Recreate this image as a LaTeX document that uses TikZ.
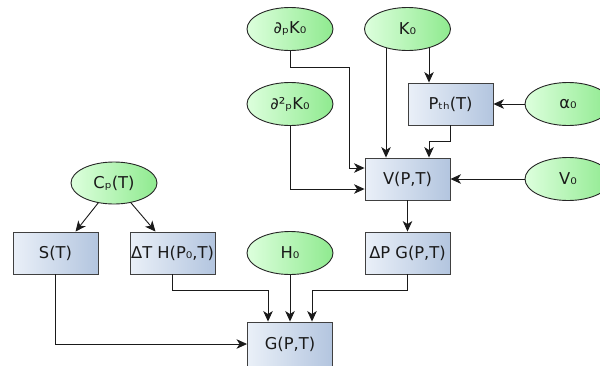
\documentclass[tikz,border=0pt]{standalone}
\usepackage{fontspec}
\setmainfont{DejaVu Sans}
\usetikzlibrary{shapes.geometric,arrows.meta}
\definecolor{boxL}{HTML}{EAF0F8}
\definecolor{boxR}{HTML}{B3C5DF}
\definecolor{ellL}{HTML}{DDFFDD}
\definecolor{ellR}{HTML}{8FEA8F}
\definecolor{linec}{HTML}{1A1A1A}
\begin{document}
\begin{tikzpicture}[x=1pt,y=-1pt,
  txt/.style={font=\fontsize{16.3}{19}\selectfont, text=linec},
  box/.style={txt, rectangle, draw=black!75, line width=0.9pt, minimum width=85pt, minimum height=42pt, inner sep=0pt, left color=boxL, right color=boxR},
  ell/.style={txt, ellipse, draw=black!85, line width=0.9pt, minimum width=86pt, minimum height=43pt, inner sep=0pt, left color=ellL, right color=ellR},
  arr/.style={draw=linec, line width=0.9pt, -{Stealth[length=10.5pt,width=9.5pt,inset=3pt]}}]
\useasboundingbox (0,0) rectangle (600,365);

\node[ell] (dpK)  at (290,29)    {∂ₚK₀};
\node[ell] (K0)   at (407.5,29)  {K₀};
\node[ell] (d2pK) at (290,104)   {∂²ₚK₀};
\node[box] (Pth)  at (450.5,104) {Pₜₕ(T)};
\node[ell] (alpha) at (568,104)  {α₀};
\node[box] (V)    at (407.5,179) {V(P,T)};
\node[ell] (V0)   at (568,179)   {V₀};
\node[ell, minimum height=42pt] (Cp) at (114,183) {Cₚ(T)};
\node[box] (S)    at (55.5,253)  {S(T)};
\node[box] (dTH)  at (172.5,253) {ΔT H(P₀,T)};
\node[ell] (H0)   at (290,253)   {H₀};
\node[box] (dPG)  at (407.5,253) {ΔP G(P,T)};
\node[box, minimum height=44pt] (G) at (290,344) {G(P,T)};

\coordinate (j1) at (349,67);
\coordinate (j2) at (429,141);
\coordinate (j3) at (268,290);
\coordinate (j4) at (312,290);
\coordinate (k0a) at ([xshift=-21.5pt,yshift=3pt]K0.south);
\coordinate (k0b) at ([xshift=21.5pt,yshift=3pt]K0.south);

\draw[arr] (dpK.south) |- (j1) |- ([yshift=11pt]V.west);
\draw[arr] (d2pK.south) |- ([yshift=-10pt]V.west);
\draw[arr] (k0a) -- (k0a |- V.north);
\draw[arr] (k0b) -- (k0b |- Pth.north);
\draw[arr] (Pth.south) |- (j2) -- (j2 |- V.north);
\draw[arr] (alpha.west) -- (Pth.east);
\draw[arr] (V0.west) -- (V.east);
\draw[arr] (V.south) -- (dPG.north);
\draw[arr] (Cp) -- ([xshift=20pt]S.north);
\draw[arr] (Cp) -- ([xshift=-17pt]dTH.north);
\draw[arr] (S.south) |- (G.west);
\draw[arr] (dTH.south) |- (j3) -- (j3 |- G.north);
\draw[arr] (H0.south) -- (G.north);
\draw[arr] (dPG.south) |- (j4) -- (j4 |- G.north);
\end{tikzpicture}
\end{document}
